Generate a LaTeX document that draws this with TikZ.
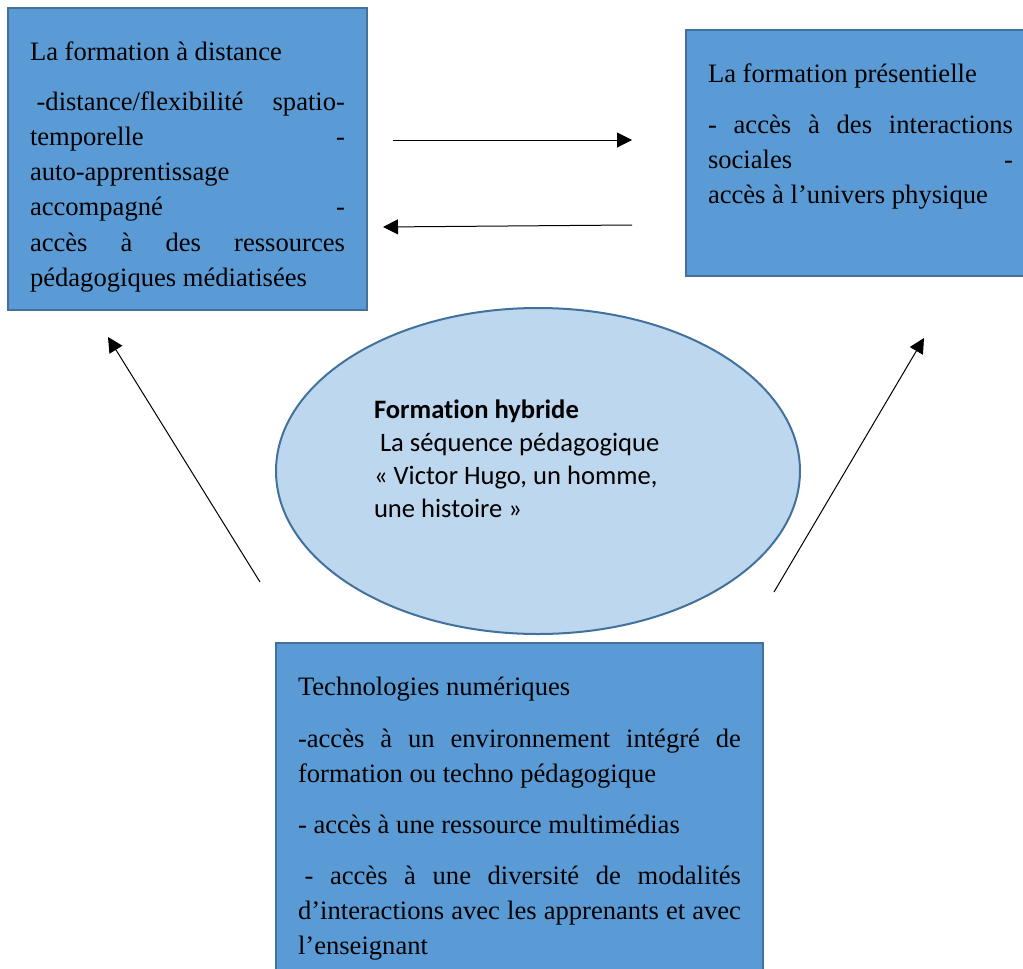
\documentclass[tikz,border=0pt]{standalone}
\usepackage{fontspec}
\setmainfont[Ligatures={NoCommon}]{Liberation Serif}
\newfontfamily\calfont[Ligatures={NoCommon}]{Carlito}
\usetikzlibrary{arrows.meta,shapes.geometric}
\definecolor{boxfill}{HTML}{5B9BD5}
\definecolor{boxline}{HTML}{41719C}
\definecolor{ellfill}{HTML}{BDD7EE}
\newcommand{\jl}[2]{\hbox to #1{#2}}
\newcommand{\nl}[1]{\hbox{#1}}
\begin{document}
\begin{tikzpicture}[x=1pt,y=-1pt,
  bluebox/.style={draw=boxline, fill=boxfill, line width=2pt, rectangle, inner sep=0pt, outer sep=0pt},
  ovalbox/.style={draw=boxline, fill=ellfill, line width=2pt, ellipse, inner sep=0pt, outer sep=0pt},
  txt/.style={anchor=base west, inner sep=0pt, outer sep=0pt, font=\fontsize{26.6}{35.3}\selectfont},
  ovaltxt/.style={anchor=base west, inner sep=0pt, outer sep=0pt, font=\calfont\fontsize{26.6}{33}\selectfont},
  conn/.style={line width=1pt, -{Triangle[length=15pt,width=15pt]}}]
\useasboundingbox (0,0) rectangle (1023,969);

% boxes
\node[bluebox, minimum width=359pt, minimum height=302pt] (dist) at (187.5,159) {};
\node[bluebox, minimum width=374pt, minimum height=246pt] (pres) at (873,153) {};
\node[ovalbox, minimum width=524pt, minimum height=326pt] (hyb) at (538,471) {};
\node[bluebox, minimum width=487pt, minimum height=357pt] (tech) at (519.5,821.5) {};

% texts
\node[txt] (disttxt) at (30,60) {\vtop{\baselineskip=35.3pt
  \nl{La formation à distance}\vskip14.7pt
  \jl{315pt}{\kern6.6pt -distance/flexibilité spatio-}
  \jl{315pt}{temporelle\hfill-}
  \nl{auto-apprentissage}
  \jl{315pt}{accompagné\hfill-}
  \jl{315pt}{accès à des ressources}
  \nl{pédagogiques médiatisées}}};

\node[txt] (prestxt) at (708,82) {\vtop{\baselineskip=35.3pt
  \nl{La formation présentielle}\vskip15.7pt
  \jl{305pt}{- accès à des interactions}
  \jl{305pt}{sociales\hfill-}
  \nl{accès à l’univers physique}}};

\node[txt] (techtxt) at (298,695) {\vtop{\baselineskip=35pt
  \nl{Technologies numériques}\vskip17pt
  \jl{443pt}{-accès à un environnement intégré de}
  \nl{formation ou techno pédagogique}\vskip16pt
  \nl{- accès à une ressource multimédias}\vskip16pt
  \jl{443pt}{\kern6.6pt - accès à une diversité de modalités}
  \jl{443pt}{d’interactions avec les apprenants et avec}
  \nl{l’enseignant}}};

\node[ovaltxt] (hybtxt) at (374,418) {\vtop{\baselineskip=33pt
  \nl{\bfseries Formation hybride}
  \nl{\kern6pt La séquence pédagogique}
  \nl{« Victor Hugo, un homme,}
  \nl{une histoire »}}};

% arrow end points
\coordinate (a1s) at (393,140);
\coordinate (a1e) at (632,140);
\coordinate (a2s) at (632,225);
\coordinate (a2e) at (383,227);
\coordinate (a3s) at (260,582);
\coordinate (a3e) at (108,337);
\coordinate (a4s) at (774,592);
\coordinate (a4e) at (924,338);

\draw[conn] (a1s) -- (a1e);
\draw[conn] (a2s) -- (a2e);
\draw[conn] (a3s) -- (a3e);
\draw[conn] (a4s) -- (a4e);
\end{tikzpicture}
\end{document}
